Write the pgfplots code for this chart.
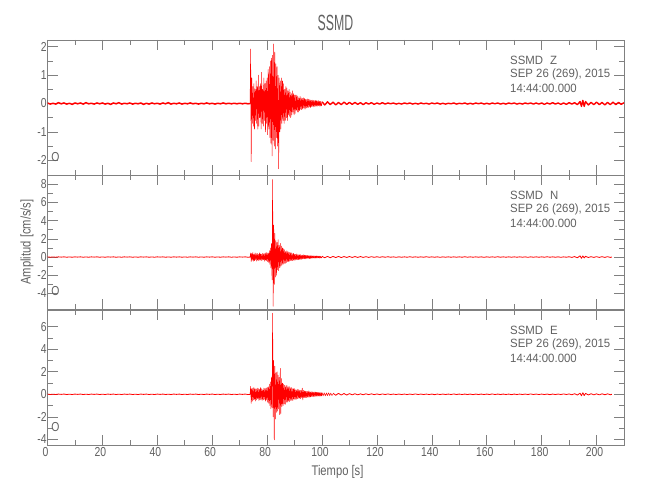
\documentclass[border=0pt]{standalone}
\usepackage{graphicx}
\usepackage{fontspec}
\setmainfont{Liberation Sans}[FakeStretch=0.8]
\newfontfamily\annfam{Liberation Sans}[FakeStretch=0.95]
\usepackage{pgfplots}
\pgfplotsset{compat=1.18}
\definecolor{axisgray}{gray}{0.5}
\definecolor{txtgray}{gray}{0.38}
\newcommand\tickfont{\fontsize{13}{13}\selectfont}
\newcommand\annfont{\annfam\fontsize{12}{12}\selectfont}
\newcommand\labfont{\fontsize{14}{14}\selectfont}
\newcommand\titlefont{\fontsize{22}{22}\selectfont}
\pgfplotsset{
 seis/.style={scale only axis, width=576.5pt, xmin=0, xmax=210,
  xtick={0,20,...,200}, minor x tick num=1, minor y tick num=1,
  tick align=inside, major tick length=10pt, minor tick length=5pt,
  axis line style={draw=axisgray, line width=0.6pt},
  tick style={draw=axisgray, line width=0.6pt},
  /pgf/number format/assume math mode=true,
  ticklabel style={font=\tickfont, text=txtgray},
  xticklabel style={yshift=1pt, xshift=-2pt},
  yticklabel style={inner xsep=0.6pt},
 },
 trace/.style={color=red, line width=0.5pt, line join=round, no marks},
 quiet/.style={color=red, line width=#1, line join=round, no marks},
}
\newcommand\stationtext[1]{%
  \node[anchor=base west, font=\annfont, text=txtgray, yshift=-24.7pt] at (rel axis cs:0.7965,1) {SSMD\hspace{7pt}#1};
  \node[anchor=base west, font=\annfont, text=txtgray, yshift=-38pt] at (rel axis cs:0.7965,1) {SEP 26 (269), 2015};
  \node[anchor=base west, font=\annfont, text=txtgray, yshift=-52.3pt] at (rel axis cs:0.7965,1) {14:44:00.000};
  \node[font=\tickfont, text=txtgray, xshift=8pt, yshift=18pt] at (rel axis cs:0,0) {O};
}
\begin{document}
\begin{tikzpicture}
\useasboundingbox (0,0) rectangle (650pt,500pt);
% ---------------- Z ----------------
\begin{axis}[seis, at={(47.5pt,325pt)}, anchor=south west, height=135pt,
  ymin=-2.52, ymax=2.24, ytick={-2,-1,0,1,2}, xticklabels={}]
\addplot[quiet=1.5pt] coordinates {
(0,0.02)(1,-0.02)(2,0.01)(3,-0.02)(4,0.03)(5,-0.01)(6,0.02)(7,-0.02)(8,0.01)(9,-0.03)
(10,0.02)(11,-0.01)(12,0.02)(13,-0.02)(14,0.03)(15,-0.01)(16,0.01)(17,-0.02)(18,0.02)(19,-0.01)
(20,0.02)(21,-0.02)(22,0.01)(23,-0.03)(24,0.02)(25,-0.01)(26,0.03)(27,-0.02)(28,0.01)(29,-0.01)
(30,0.02)(31,-0.02)(32,0.01)(33,-0.01)(34,0.02)(35,-0.03)(36,0.01)(37,-0.02)(38,0.02)(39,-0.01)
(40,0.01)(41,-0.02)(42,0.02)(43,-0.01)(44,0.03)(45,-0.02)(46,0.01)(47,-0.01)(48,0.02)(49,-0.02)
(50,0.01)(51,-0.01)(52,0.02)(53,-0.01)(54,0.01)(55,-0.02)(56,0.01)(57,-0.01)(58,0.02)(59,-0.01)
(60,0.01)(61,-0.02)(62,0.01)(63,-0.01)(64,0.02)(65,-0.01)(66,0.01)(67,-0.01)(68,0.01)(69,-0.01)
(70,0.01)(71,-0.01)(72,0.01)(73,-0.01)(74.0,0.0)
};
\addplot[trace] coordinates {
(73.8,0.0)
(74.0,1.92)(74.2,-2.05)(74.4,0.9)(74.6,-0.7)(74.8,0.6)(75.0,-0.8)(75.2,0.7)(75.4,-0.9)(75.6,0.5)(75.8,-0.6)
(76.0,0.8)(76.2,-0.7)(76.4,0.6)(76.6,-0.9)(76.8,1.0)(77.0,-0.8)(77.2,0.6)(77.4,-0.5)(77.6,0.7)(77.8,-0.9)
(78.0,1.1)(78.2,-0.7)(78.4,0.5)(78.6,-0.8)(78.8,0.9)(79.0,-0.6)(79.2,0.7)(79.4,-1.0)(79.6,0.8)(79.8,-0.7)
(80.0,0.9)(80.2,-1.1)(80.4,1.2)(80.6,-0.9)(80.8,1.3)(81.0,-1.2)(81.2,1.5)(81.4,-1.4)(81.6,1.6)(81.8,-1.85)
(82.0,1.7)(82.2,-1.3)(82.4,2.1)(82.6,-1.5)(82.8,1.8)(83.0,-1.6)(83.2,1.4)(83.4,-1.2)(83.6,1.3)(83.8,-1.5)
(84.0,1.0)(84.2,-2.3)(84.4,0.9)(84.6,-1.0)(84.8,0.8)(85.0,-0.9)(85.2,0.9)(85.4,-0.7)(85.6,0.8)(85.8,-0.6)
(86.0,0.7)(86.2,-0.7)(86.4,0.5)(86.6,-0.6)(86.8,0.6)(87.0,-0.5)(87.2,0.55)(87.4,-0.6)(87.6,0.45)(87.8,-0.4)
(88.0,0.5)(88.2,-0.45)(88.4,0.4)(88.6,-0.5)(88.8,0.35)(89.0,-0.4)(89.2,0.45)(89.4,-0.3)(89.6,0.35)(89.8,-0.4)
(90.0,0.3)(90.2,-0.35)(90.4,0.3)(90.6,-0.25)(90.8,0.3)(91.0,-0.3)(91.2,0.25)(91.4,-0.3)(91.6,0.2)(91.8,-0.25)
(92.0,0.25)(92.2,-0.2)(92.4,0.2)(92.6,-0.22)(92.8,0.18)(93.0,-0.2)(93.2,0.2)(93.4,-0.15)(93.6,0.18)(93.8,-0.2)
(94.0,0.15)(94.2,-0.16)(94.4,0.14)(94.6,-0.15)(94.8,0.16)(95.0,-0.14)(95.2,0.15)(95.4,-0.12)(95.6,0.13)(95.8,-0.14)
(96.0,0.12)(96.2,-0.11)(96.4,0.12)(96.6,-0.1)(96.8,0.11)(97.0,-0.12)(97.2,0.1)(97.4,-0.1)(97.6,0.11)(97.8,-0.09)
(98.0,0.1)(98.2,-0.1)(98.4,0.09)(98.6,-0.08)(98.8,0.1)(99.0,-0.09)(99.2,0.08)(99.4,-0.09)(99.6,0.08)(99.8,-0.08)
(100,0.0)
};
\addplot[quiet=1.4pt] coordinates {
(100,0.06)(101,-0.05)(102,0.06)(103,-0.04)(104,0.05)(105,-0.05)(106,0.04)(107,-0.04)(108,0.05)(109,-0.03)
(110,0.04)(111,-0.03)(112,0.04)(113,-0.03)(114,0.03)(115,-0.04)(116,0.03)(117,-0.02)(118,0.03)(119,-0.03)
(120,0.02)(121,-0.02)(122,0.03)(123,-0.02)(124,0.02)(125,-0.01)(126,0.02)(127,-0.02)(128,0.01)(129,-0.02)
(130,0.02)(131,-0.01)(132,0.02)(133,-0.02)(134,0.01)(135,-0.02)(136,0.02)(137,-0.01)(138,0.01)(139,-0.02)
(140,0.02)(141,-0.01)(142,0.02)(143,-0.02)(144,0.01)(145,-0.02)(146,0.01)(147,-0.01)(148,0.02)(149,-0.02)
(150,0.01)(151,-0.01)(152,0.02)(153,-0.02)(154,0.01)(155,-0.02)(156,0.02)(157,-0.01)(158,0.02)(159,-0.02)
(160,0.01)(161,-0.02)(162,0.02)(163,-0.01)(164,0.02)(165,-0.02)(166,0.01)(167,-0.02)(168,0.02)(169,-0.01)
(170,0.02)(171,-0.02)(172,0.01)(173,-0.02)(174,0.02)(175,-0.01)(176,0.02)(177,-0.02)(178,0.02)(179,-0.02)
(180,0.02)(181,-0.03)(182,0.02)(183,-0.02)(184,0.03)(185,-0.02)(186,0.02)(187,-0.03)(188,0.02)(189,-0.03)
(190,0.03)(191,-0.02)(192,0.03)(193,-0.04)(194,0.07)(194.5,-0.1)(195,0.11)(195.5,-0.1)(196,0.07)(197,-0.05)
(198,0.04)(199,-0.04)(200,0.05)(201,-0.04)(202,0.04)(203,-0.05)(204,0.04)(205,-0.04)(206,0.05)(207,-0.04)
(208,0.04)(209,-0.03)(210,0.03)
};
\stationtext{Z}
\end{axis}
% ---------------- N ----------------
\begin{axis}[seis, at={(47.5pt,191pt)}, anchor=south west, height=134pt,
  ymin=-5.7, ymax=9.0, ytick={-4,-2,0,2,4,6,8}, xticklabels={}]
\addplot[quiet=0.8pt] coordinates {
(0,0.02)(1,-0.02)(2,0.01)(3,-0.02)(4,0.02)(5,-0.01)(6,0.02)(7,-0.02)(8,0.01)(9,-0.02)
(10,0.02)(11,-0.01)(12,0.02)(13,-0.02)(14,0.01)(15,-0.02)(16,0.02)(17,-0.01)(18,0.02)(19,-0.02)
(20,0.01)(21,-0.02)(22,0.02)(23,-0.01)(24,0.02)(25,-0.02)(26,0.01)(27,-0.02)(28,0.02)(29,-0.01)
(30,0.02)(31,-0.02)(32,0.01)(33,-0.02)(34,0.02)(35,-0.01)(36,0.02)(37,-0.02)(38,0.01)(39,-0.02)
(40,0.02)(41,-0.01)(42,0.02)(43,-0.02)(44,0.01)(45,-0.02)(46,0.02)(47,-0.01)(48,0.02)(49,-0.02)
(50,0.01)(51,-0.02)(52,0.02)(53,-0.01)(54,0.02)(55,-0.02)(56,0.01)(57,-0.02)(58,0.02)(59,-0.01)
(60,0.02)(61,-0.02)(62,0.01)(63,-0.02)(64,0.02)(65,-0.01)(66,0.02)(67,-0.02)(68,0.01)(69,-0.02)
(70,0.02)(71,-0.01)(72,0.02)(73,-0.02)(74,0.0)
};
\addplot[trace] coordinates {
(73.8,0.0)
(74.0,0.45)(74.2,-0.5)(74.4,0.4)(74.6,-0.35)(74.8,0.5)(75.0,-0.45)(75.2,0.3)(75.4,-0.4)(75.6,0.45)(75.8,-0.3)
(76.0,0.35)(76.2,-0.45)(76.4,0.4)(76.6,-0.35)(76.8,0.3)(77.0,-0.4)(77.2,0.45)(77.4,-0.3)(77.6,0.35)(77.8,-0.4)
(78.0,0.3)(78.2,-0.35)(78.4,0.4)(78.6,-0.3)(78.8,0.35)(79.0,-0.45)(79.2,0.4)(79.4,-0.35)(79.6,0.5)(79.8,-0.4)
(80.0,0.45)(80.2,-0.5)(80.4,0.4)(80.6,-0.6)(80.8,0.7)(81.0,-0.8)(81.2,1.0)(81.4,-1.2)(81.6,1.5)(81.8,-2.5)
(82.0,8.5)(82.2,-5.4)(82.4,3.5)(82.6,-3.0)(82.8,2.6)(83.0,-2.2)(83.2,1.8)(83.4,-2.0)(83.6,1.6)(83.8,-1.4)
(84.0,1.9)(84.2,-1.5)(84.4,1.3)(84.6,-1.2)(84.8,1.5)(85.0,-1.0)(85.2,1.2)(85.4,-0.9)(85.6,1.0)(85.8,-0.8)
(86.0,0.9)(86.2,-0.7)(86.4,0.8)(86.6,-0.7)(86.8,0.6)(87.0,-0.6)(87.2,0.7)(87.4,-0.5)(87.6,0.6)(87.8,-0.5)
(88.0,0.5)(88.2,-0.45)(88.4,0.5)(88.6,-0.4)(88.8,0.45)(89.0,-0.4)(89.2,0.35)(89.4,-0.4)(89.6,0.4)(89.8,-0.35)
(90.0,0.3)(90.2,-0.35)(90.4,0.3)(90.6,-0.3)(90.8,0.35)(91.0,-0.3)(91.2,0.25)(91.4,-0.3)(91.6,0.25)(91.8,-0.25)
(92.0,0.3)(92.2,-0.25)(92.4,0.2)(92.6,-0.25)(92.8,0.2)(93.0,-0.2)(93.2,0.25)(93.4,-0.2)(93.6,0.2)(93.8,-0.2)
(94.0,0.18)(94.2,-0.2)(94.4,0.18)(94.6,-0.15)(94.8,0.18)(95.0,-0.15)(95.2,0.15)(95.4,-0.18)(95.6,0.15)(95.8,-0.14)
(96.0,0.15)(96.2,-0.13)(96.4,0.14)(96.6,-0.12)(96.8,0.13)(97.0,-0.12)(97.2,0.12)(97.4,-0.13)(97.6,0.11)(97.8,-0.12)
(98.0,0.12)(98.2,-0.1)(98.4,0.11)(98.6,-0.1)(98.8,0.1)(99.0,-0.11)(99.2,0.1)(99.4,-0.1)(99.6,0.09)(99.8,-0.1)
(100,0.0)
};
\addplot[quiet=0.8pt] coordinates {
(100,0.08)(101,-0.08)(102,0.07)(103,-0.08)(104,0.07)(105,-0.06)(106,0.07)(107,-0.06)(108,0.06)(109,-0.05)
(110,0.06)(111,-0.05)(112,0.05)(113,-0.04)(114,0.05)(115,-0.04)(116,0.04)(117,-0.04)(118,0.04)(119,-0.03)
(120,0.03)(121,-0.03)(122,0.03)(123,-0.02)(124,0.03)(125,-0.02)(126,0.02)(127,-0.03)(128,0.02)(129,-0.02)
(130,0.02)(131,-0.02)(132,0.03)(133,-0.02)(134,0.02)(135,-0.02)(136,0.02)(137,-0.02)(138,0.03)(139,-0.02)
(140,0.02)(141,-0.02)(142,0.02)(143,-0.03)(144,0.02)(145,-0.02)(146,0.02)(147,-0.02)(148,0.02)(149,-0.02)
(150,0.02)(151,-0.02)(152,0.03)(153,-0.02)(154,0.02)(155,-0.02)(156,0.02)(157,-0.02)(158,0.02)(159,-0.03)
(160,0.02)(161,-0.02)(162,0.02)(163,-0.02)(164,0.03)(165,-0.02)(166,0.02)(167,-0.02)(168,0.02)(169,-0.02)
(170,0.02)(171,-0.02)(172,0.02)(173,-0.02)(174,0.02)(175,-0.03)(176,0.02)(177,-0.02)(178,0.02)(179,-0.02)
(180,0.02)(181,-0.02)(182,0.03)(183,-0.02)(184,0.02)(185,-0.02)(186,0.02)(187,-0.03)(188,0.02)(189,-0.02)
(190,0.03)(191,-0.04)(192,0.05)(193,-0.08)(194,0.13)(194.5,-0.14)(195,0.12)(195.5,-0.1)(196,0.08)(197,-0.05)
(198,0.04)(199,-0.04)(200,0.04)(201,-0.04)(202,0.04)(203,-0.04)(204,0.04)(205,-0.04)(205.6,0.0)
};
\stationtext{N}
\end{axis}
% ---------------- E ----------------
\begin{axis}[seis, at={(47.5pt,55pt)}, anchor=south west, height=135pt,
  ymin=-4.5, ymax=7.48, ytick={-4,-2,0,2,4,6}]
\addplot[quiet=0.8pt] coordinates {
(0,0.02)(1,-0.02)(2,0.01)(3,-0.02)(4,0.02)(5,-0.01)(6,0.02)(7,-0.02)(8,0.01)(9,-0.02)
(10,0.02)(11,-0.01)(12,0.02)(13,-0.02)(14,0.01)(15,-0.02)(16,0.02)(17,-0.01)(18,0.02)(19,-0.02)
(20,0.01)(21,-0.02)(22,0.02)(23,-0.01)(24,0.02)(25,-0.02)(26,0.01)(27,-0.02)(28,0.02)(29,-0.01)
(30,0.02)(31,-0.02)(32,0.01)(33,-0.02)(34,0.02)(35,-0.01)(36,0.02)(37,-0.02)(38,0.01)(39,-0.02)
(40,0.02)(41,-0.01)(42,0.02)(43,-0.02)(44,0.01)(45,-0.02)(46,0.02)(47,-0.01)(48,0.02)(49,-0.02)
(50,0.01)(51,-0.02)(52,0.02)(53,-0.01)(54,0.02)(55,-0.02)(56,0.01)(57,-0.02)(58,0.02)(59,-0.01)
(60,0.02)(61,-0.02)(62,0.01)(63,-0.02)(64,0.02)(65,-0.01)(66,0.02)(67,-0.02)(68,0.01)(69,-0.02)
(70,0.02)(71,-0.01)(72,0.02)(73,-0.02)(74,0.0)
};
\addplot[trace] coordinates {
(73.8,0.0)
(74.0,0.7)(74.2,-0.8)(74.4,0.5)(74.6,-0.6)(74.8,0.55)(75.0,-0.5)(75.2,0.6)(75.4,-0.45)(75.6,0.5)(75.8,-0.6)
(76.0,0.45)(76.2,-0.5)(76.4,0.55)(76.6,-0.4)(76.8,0.5)(77.0,-0.55)(77.2,0.45)(77.4,-0.5)(77.6,0.6)(77.8,-0.45)
(78.0,0.5)(78.2,-0.55)(78.4,0.4)(78.6,-0.5)(78.8,0.55)(79.0,-0.45)(79.2,0.5)(79.4,-0.6)(79.6,0.55)(79.8,-0.5)
(80.0,0.6)(80.2,-0.7)(80.4,0.65)(80.6,-0.8)(80.8,0.9)(81.0,-1.0)(81.2,1.1)(81.4,-1.3)(81.6,1.5)(81.8,-1.2)
(82.0,7.2)(82.2,-2.0)(82.4,3.0)(82.6,-4.05)(82.8,2.5)(83.0,-2.2)(83.2,1.9)(83.4,-1.6)(83.6,2.0)(83.8,-1.5)
(84.0,1.7)(84.2,-1.3)(84.4,1.5)(84.6,-1.8)(84.8,2.3)(85.0,-1.7)(85.2,1.4)(85.4,-1.1)(85.6,1.0)(85.8,-1.0)
(86.0,0.9)(86.2,-0.85)(86.4,0.8)(86.6,-0.9)(86.8,0.75)(87.0,-0.7)(87.2,0.8)(87.4,-0.7)(87.6,0.65)(87.8,-0.6)
(88.0,0.7)(88.2,-0.65)(88.4,0.6)(88.6,-0.55)(88.8,0.6)(89.0,-0.55)(89.2,0.5)(89.4,-0.55)(89.6,0.5)(89.8,-0.45)
(90.0,0.5)(90.2,-0.45)(90.4,0.4)(90.6,-0.45)(90.8,0.4)(91.0,-0.4)(91.2,0.45)(91.4,-0.35)(91.6,0.4)(91.8,-0.35)
(92.0,0.35)(92.2,-0.4)(92.4,0.35)(92.6,-0.3)(92.8,0.55)(93.0,-0.5)(93.2,0.35)(93.4,-0.3)(93.6,0.3)(93.8,-0.3)
(94.0,0.28)(94.2,-0.3)(94.4,0.25)(94.6,-0.28)(94.8,0.25)(95.0,-0.25)(95.2,0.3)(95.4,-0.25)(95.6,0.22)(95.8,-0.24)
(96.0,0.22)(96.2,-0.2)(96.4,0.22)(96.6,-0.2)(96.8,0.2)(97.0,-0.22)(97.2,0.2)(97.4,-0.18)(97.6,0.2)(97.8,-0.18)
(98.0,0.18)(98.2,-0.17)(98.4,0.18)(98.6,-0.16)(98.8,0.17)(99.0,-0.16)(99.2,0.15)(99.4,-0.16)(99.6,0.15)(99.8,-0.15)
(100,0.15)(100.4,-0.14)(100.8,0.13)(101.2,-0.14)(101.6,0.12)(102,-0.12)(102.4,0.13)(102.8,-0.11)(103.2,0.1)(103.6,-0.11)
(104,0.0)
};
\addplot[quiet=0.8pt] coordinates {
(104,0.09)(105,-0.08)(106,0.08)(107,-0.07)(108,0.07)(109,-0.07)
(110,0.06)(111,-0.05)(112,0.05)(113,-0.05)(114,0.04)(115,-0.04)(116,0.04)(117,-0.03)(118,0.04)(119,-0.03)
(120,0.03)(121,-0.03)(122,0.03)(123,-0.02)(124,0.03)(125,-0.02)(126,0.02)(127,-0.02)(128,0.02)(129,-0.02)
(130,0.02)(131,-0.02)(132,0.02)(133,-0.02)(134,0.03)(135,-0.02)(136,0.02)(137,-0.02)(138,0.02)(139,-0.02)
(140,0.02)(141,-0.03)(142,0.02)(143,-0.02)(144,0.02)(145,-0.02)(146,0.02)(147,-0.02)(148,0.03)(149,-0.02)
(150,0.02)(151,-0.02)(152,0.02)(153,-0.02)(154,0.02)(155,-0.03)(156,0.02)(157,-0.02)(158,0.02)(159,-0.02)
(160,0.02)(161,-0.02)(162,0.03)(163,-0.02)(164,0.02)(165,-0.02)(166,0.02)(167,-0.02)(168,0.02)(169,-0.03)
(170,0.02)(171,-0.02)(172,0.02)(173,-0.02)(174,0.02)(175,-0.02)(176,0.03)(177,-0.02)(178,0.02)(179,-0.02)
(180,0.02)(181,-0.02)(182,0.02)(183,-0.03)(184,0.02)(185,-0.02)(186,0.02)(187,-0.02)(188,0.03)(189,-0.02)
(190,0.03)(191,-0.04)(192,0.05)(193,-0.07)(194,0.1)(194.5,-0.13)(195,0.14)(195.5,-0.11)(196,0.08)(197,-0.06)
(198,0.05)(199,-0.05)(200,0.04)(201,-0.05)(202,0.04)(203,-0.04)(204,0.04)(205,-0.04)(205.6,0.0)
};
\stationtext{E}
\end{axis}
\node[font=\titlefont, text=txtgray] at (335.5pt,477pt) {\scalebox{0.7}[1]{SSMD}};
\node[font=\labfont, text=txtgray] at (337.5pt,28pt) {Tiempo [s]};
\node[font=\labfont, text=txtgray, rotate=90] at (27pt,258pt) {Amplitud [cm/s/s]};
\end{tikzpicture}
\end{document}
